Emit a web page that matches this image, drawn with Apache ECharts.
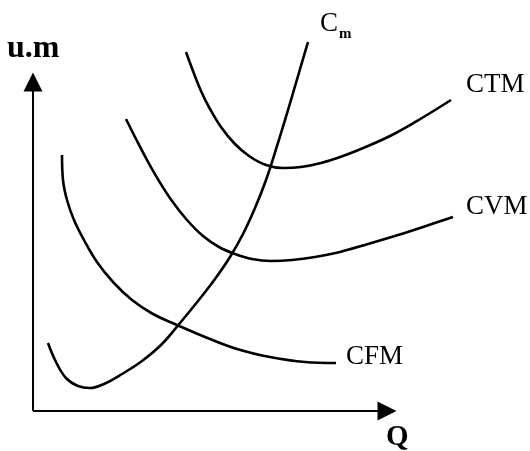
<!DOCTYPE html>
<html>
<head>
<meta charset="utf-8">
<script src="https://cdn.jsdelivr.net/npm/echarts@6/dist/echarts.min.js"></script>
<style>
html,body{margin:0;padding:0;background:#fff;}
#chart{width:530px;height:451px;}
</style>
</head>
<body>
<div id="chart"></div>
<script>
// Quantity (Q) vs cost (u.m), arbitrary units
const cmData  = [[15,68],[23,49],[33,33],[45,25],[57,23],[71,27],[89,37],[109,50],[129,67],[147,88],[165,110],[182,132],[197,154],[210,177],[222,203],[233,231],[244,265],[255,301],[265,335],[275,369]];
const cfmData = [[29,256],[30,231],[34,211],[41,191],[51,171],[64,149],[80,129],[99,111],[120,97],[144,86],[172,74],[204,62],[237,54],[272,49],[303,48]];
const cvmData = [[93,292],[103,272],[114,251],[126,230],[139,210],[154,191],[170,175],[186,164],[202,157],[219,152],[238,150],[259,151],[282,154],[307,159],[335,167],[365,176],[393,185],[420,194]];
const ctmData = [[153,359],[160,340],[168,320],[177,302],[188,284],[201,268],[216,255],[233,246],[250,243],[268,244],[288,248],[310,255],[335,265],[361,277],[389,293],[418,311]];
const seriesNames = ['Cm','CFM','CVM','CTM'];
const axisNames = {x:'Q', y:'u.m'};
const axisEnds = {x:354, y:329};

const serif = '"Liberation Serif","Times New Roman",serif';
const chart = echarts.init(document.getElementById('chart'));
function curve(name, data){
  return {
    name, type:'line', data, smooth:0.4, showSymbol:false, clip:false,
    lineStyle:{color:'#000', width:2.6}, silent:true, animation:false
  };
}
const axesSeries = {
  type:'line', data:[], silent:true, animation:false,
  markLine:{
    silent:true, animation:false, symbol:['none','triangle'], symbolSize:[19,19],
    label:{show:false},
    lineStyle:{color:'#000', width:2, type:'solid'},
    emphasis:{disabled:true},
    data:[
      [{coord:[0,0]},{coord:[axisEnds.x,0]}],
      [{coord:[0,0]},{coord:[0,axisEnds.y]}]
    ]
  }
};
chart.setOption({
  backgroundColor:'#fff',
  animation:false,
  grid:{left:33, top:42, width:420, height:369},
  xAxis:{type:'value', min:0, max:420, show:true,
    axisLine:{show:false}, axisTick:{show:false}, axisLabel:{show:false}, splitLine:{show:false}},
  yAxis:{type:'value', min:0, max:369, show:true,
    axisLine:{show:false}, axisTick:{show:false}, axisLabel:{show:false}, splitLine:{show:false}},
  series:[curve(seriesNames[0], cmData), curve(seriesNames[1], cfmData), curve(seriesNames[2], cvmData), curve(seriesNames[3], ctmData), axesSeries],
  graphic:[
    {type:'text', left:7, top:33, style:{text:axisNames.y, font:'bold 32px '+serif, fill:'#000'}},
    {type:'text', left:386, top:423, style:{text:axisNames.x, font:'bold 29px '+serif, fill:'#000'}},
    {type:'text', left:466, top:71, style:{text:'CTM', font:'27px '+serif, fill:'#000'}},
    {type:'text', left:466, top:193, style:{text:'CVM', font:'27px '+serif, fill:'#000'}},
    {type:'text', left:346, top:343, style:{text:'CFM', font:'27px '+serif, fill:'#000'}},
    {type:'text', left:320, top:10, style:{text:'C', font:'27px '+serif, fill:'#000'}},
    {type:'text', left:339, top:27, style:{text:'m', font:'bold 15px '+serif, fill:'#000'}}
  ]
});
</script>
</body>
</html>
